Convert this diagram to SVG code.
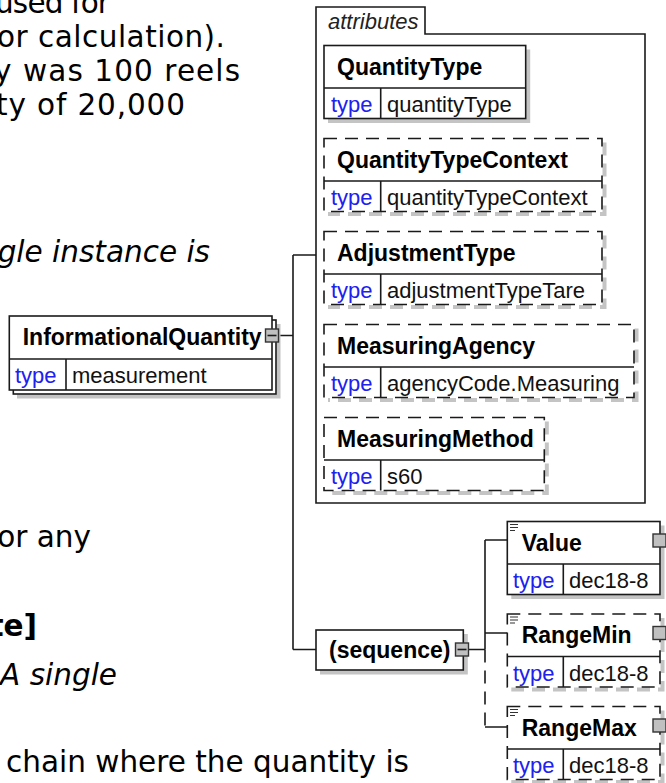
<svg xmlns="http://www.w3.org/2000/svg" width="666" height="783" viewBox="0 0 666 783">
<style>
.page{font-family:"DejaVu Sans",Verdana,sans-serif;font-size:29.5px;fill:#000}
.it{font-style:italic}
.bd{font-weight:bold}
.box{fill:#fff;stroke:#1a1a1a;stroke-width:1.6}
.dash{stroke-dasharray:13 8}
.sh{fill:none;stroke:#c4c4c4;stroke-width:4}
.ttl{font-family:"Liberation Sans",Arial,sans-serif;font-weight:bold;font-size:23px;fill:#000}
.tl{font-family:"Liberation Sans",Arial,sans-serif;font-size:22px;fill:#2020f0}
.tv{font-family:"Liberation Sans",Arial,sans-serif;font-size:22px;fill:#111}
.ln{fill:none;stroke:#1a1a1a;stroke-width:1.6}
.btn{fill:#c0c0c0;stroke:#333;stroke-width:1.4}
.tab{font-family:"Liberation Sans",Arial,sans-serif;font-style:italic;font-size:22px;fill:#222}
.ico{fill:none;stroke:#333;stroke-width:1.2}
</style>
<rect width="666" height="783" fill="#fff"/>

<g id="page-text" class="page">
<text x="-5" y="12.5" textLength="115" lengthAdjust="spacing">used for</text>
<text x="-3" y="46.5" textLength="228" lengthAdjust="spacing">or calculation).</text>
<text x="-6" y="81" textLength="246" lengthAdjust="spacing">y was 100 reels</text>
<text x="-4" y="115" textLength="189" lengthAdjust="spacing">ty of 20,000</text>
<text x="210" y="262" text-anchor="end" class="it">gle instance is</text>
<text x="91" y="547" text-anchor="end">or any</text>
<text x="37" y="636" text-anchor="end" class="bd">te]</text>
<text x="117" y="685" text-anchor="end" class="it">A single</text>
<text x="6" y="772">chain where the quantity is</text>
</g>

<g id="connectors">
<path class="ln" d="M278.5,335.5 H293 M293,255 V649.5 M293,255 H316 M293,649.5 H316"/>
<path class="ln" d="M468.5,649.5 H485 M485,540 V649.5 M485,540 H507.3 M485,633 H507.3 M485,727 H507.3"/>
<path class="ln dash" d="M485,649.5 V727"/>
</g>

<g id="attributes">
<path class="ln" d="M316,503 V7 H425 V34 H645 V503 Z"/>
<text class="tab" x="328" y="29">attributes</text>
</g>

<g id="QuantityType">
<path class="sh" d="M528.2,49.5 V121 H328"/>
<rect class="box" x="324" y="45.5" width="201.7" height="73"/>
<path class="ln" d="M324,88 H525.7 M380.7,88 V118.5"/>
<text class="ttl" x="337" y="74.5">QuantityType</text>
<text class="tl" x="331" y="112">type</text>
<text class="tv" x="387" y="112">quantityType</text>
</g>

<g id="QuantityTypeContext">
<path class="sh dash" d="M604.5,142.5 V214 H328"/>
<rect class="box dash" x="324" y="138.5" width="278" height="73"/>
<path class="ln" d="M324,181 H602 M380.7,181 V211.5"/>
<text class="ttl" x="337" y="167.5">QuantityTypeContext</text>
<text class="tl" x="331" y="205">type</text>
<text class="tv" x="387" y="205">quantityTypeContext</text>
</g>

<g id="AdjustmentType">
<path class="sh dash" d="M604.5,235.5 V307 H328"/>
<rect class="box dash" x="324" y="231.5" width="278" height="73"/>
<path class="ln" d="M324,274 H602 M380.7,274 V304.5"/>
<text class="ttl" x="337" y="260.5">AdjustmentType</text>
<text class="tl" x="331" y="298">type</text>
<text class="tv" x="387" y="298">adjustmentTypeTare</text>
</g>

<g id="MeasuringAgency">
<path class="sh dash" d="M636.5,328.5 V400 H328"/>
<rect class="box dash" x="324" y="324.5" width="310" height="73"/>
<path class="ln" d="M324,367 H634 M380.7,367 V397.5"/>
<text class="ttl" x="337" y="353.5">MeasuringAgency</text>
<text class="tl" x="331" y="391">type</text>
<text class="tv" x="387" y="391">agencyCode.Measuring</text>
</g>

<g id="MeasuringMethod">
<path class="sh dash" d="M546.8,421.5 V493 H328"/>
<rect class="box dash" x="324" y="417.5" width="220.3" height="73"/>
<path class="ln" d="M324,460 H544.3 M380.7,460 V490.5"/>
<text class="ttl" x="337" y="446.5">MeasuringMethod</text>
<text class="tl" x="331" y="484">type</text>
<text class="tv" x="387" y="484">s60</text>
</g>

<g id="InformationalQuantity">
<path class="sh" d="M278.5,324 V396.5 H17"/>
<rect class="box" x="13.3" y="320" width="262.7" height="74"/>
<rect class="box" x="9.3" y="316" width="262.7" height="74"/>
<path class="ln" d="M9.3,359 H272 M66,359 V390"/>
<text class="ttl" x="22.7" y="345">InformationalQuantity</text>
<text class="tl" x="15" y="383">type</text>
<text class="tv" x="72" y="383">measurement</text>
<rect class="btn" x="265.5" y="329" width="13" height="13"/>
<path class="ln" d="M267.5,335.5 H276.5"/>
</g>

<g id="sequence">
<path class="sh" d="M465.8,634 V672.5 H320"/>
<rect class="box" x="316" y="630" width="147.3" height="40"/>
<text class="ttl" x="329" y="658">(sequence)</text>
<rect class="btn" x="455.5" y="643" width="13" height="13"/>
<path class="ln" d="M457.5,649.5 H466.5"/>
</g>

<g id="Value">
<path class="sh" d="M662.5,525.5 V597 H511.3"/>
<rect class="box" x="507.3" y="521.5" width="152.7" height="73"/>
<path class="ln" d="M507.3,564 H660 M563.3,564 V594.5"/>
<path class="ico" d="M510,524.5 H518 M510,527.5 H518 M510,530.5 H515"/>
<text class="ttl" x="521.7" y="550.5">Value</text>
<text class="tl" x="513" y="588">type</text>
<text class="tv" x="569" y="588">dec18-8</text>
<rect class="btn" x="653" y="534" width="13" height="13"/>
</g>

<g id="RangeMin">
<path class="sh dash" d="M662.5,618 V689.5 H511.3"/>
<rect class="box dash" x="507.3" y="614" width="152.7" height="73"/>
<path class="ln" d="M507.3,656.5 H660 M563.3,656.5 V687"/>
<path class="ico" d="M510,617 H518 M510,620 H518 M510,623 H515"/>
<text class="ttl" x="521.7" y="643">RangeMin</text>
<text class="tl" x="513" y="680.5">type</text>
<text class="tv" x="569" y="680.5">dec18-8</text>
<rect class="btn" x="653" y="626.5" width="13" height="13"/>
</g>

<g id="RangeMax">
<path class="sh dash" d="M662.5,710.5 V782 H511.3"/>
<rect class="box dash" x="507.3" y="706.5" width="152.7" height="73"/>
<path class="ln" d="M507.3,749 H660 M563.3,749 V779.5"/>
<path class="ico" d="M510,709.5 H518 M510,712.5 H518 M510,715.5 H515"/>
<text class="ttl" x="521.7" y="735.5">RangeMax</text>
<text class="tl" x="513" y="773">type</text>
<text class="tv" x="569" y="773">dec18-8</text>
<rect class="btn" x="653" y="719" width="13" height="13"/>
</g>
</svg>
